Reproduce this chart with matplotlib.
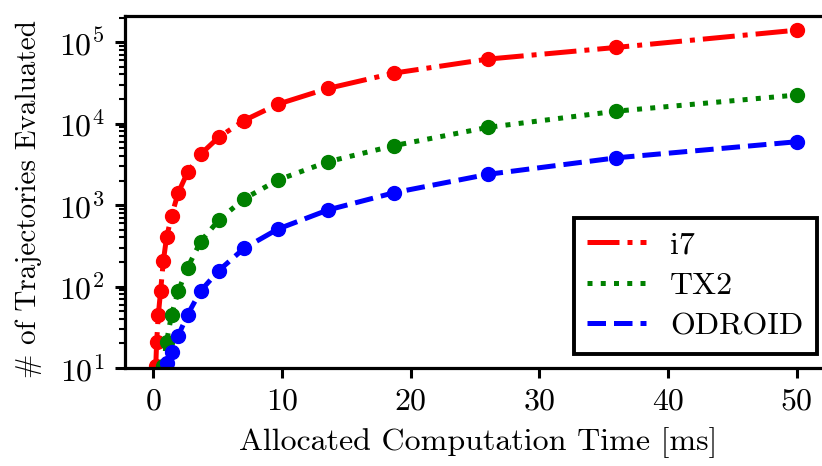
import matplotlib
matplotlib.use("Agg")
import matplotlib.pyplot as plt

plt.rcParams['font.family'] = ['cmr10', 'DejaVu Serif']
plt.rcParams['mathtext.fontset'] = 'cm'
plt.rcParams['axes.formatter.use_mathtext'] = True

# Data
i7_x = [0.10, 0.14, 0.19, 0.26, 0.39, 0.57, 0.78, 1.03, 1.42, 1.94, 2.66, 3.67, 5.09, 7.05, 9.69, 13.57, 18.74, 26.0, 36.0, 50.0]
i7_y = [2.5, 5, 10.5, 21, 45, 89, 206, 400, 740, 1420, 2520, 4200, 6800, 10900, 17300, 27000, 41700, 61800, 86000, 140000]

tx2_x = [0.39, 0.57, 0.78, 1.03, 1.42, 1.94, 2.66, 3.67, 5.09, 7.05, 9.69, 13.57, 18.74, 26.0, 36.0, 50.0]
tx2_y = [2.5, 5, 10.5, 21, 45, 88, 170, 355, 655, 1190, 2030, 3400, 5370, 8980, 14200, 22400]

odroid_x = [0.57, 0.78, 1.03, 1.42, 1.94, 2.66, 3.67, 5.09, 7.05, 9.69, 13.57, 18.74, 26.0, 36.0, 50.0]
odroid_y = [5, 8, 11.5, 15.9, 25, 45, 88, 157, 294, 508, 869, 1420, 2380, 3800, 5980]

xticks = [0, 10, 20, 30, 40, 50]

fig = plt.figure(figsize=(8.22, 4.66), dpi=100)
W, H = 822, 466
ax_left, ax_right_px = 125, 832
ax_top, ax_bot = 16, 368
ax = fig.add_axes([ax_left / W, (H - ax_bot) / H, (ax_right_px - ax_left) / W, (ax_bot - ax_top) / H])

lw = 3.6
ms = 10
ax.plot(i7_x, i7_y, linestyle='-.', color='red', lw=lw, marker='o', ms=ms, label='i7')
ax.plot(tx2_x, tx2_y, linestyle=':', color='green', lw=lw, marker='o', ms=ms, label='TX2')
ax.plot(odroid_x, odroid_y, linestyle='--', color='blue', lw=lw, marker='o', ms=ms, label='ODROID')

ax.set_yscale('log')
ax.set_ylim(10, 10 ** 5.32)
ax.set_xlim(-2.2, 52.75)
ax.set_xticks(xticks)
ax.set_xticklabels([str(v) for v in xticks])

fs = 23
for s in ax.spines.values():
    s.set_linewidth(2.3)
ax.tick_params(axis='both', which='major', length=7.5, width=2.2, labelsize=fs, pad=7)
ax.tick_params(axis='y', which='minor', length=4.5, width=1.5)

ax.set_xlabel('Allocated Computation Time [ms]', fontsize=fs, labelpad=8)
ax.set_ylabel('# of Trajectories Evaluated', fontsize=21, labelpad=7)
ax.yaxis.set_label_coords(-0.118, 0.48)

leg = ax.legend(loc='lower right', bbox_to_anchor=((817 - ax_left) / (ax_right_px - ax_left), (ax_bot - 354) / (ax_bot - ax_top)),
                fontsize=fs, frameon=True, fancybox=False, framealpha=1, edgecolor='black',
                handlelength=1.85, handletextpad=0.75, borderpad=0.42, labelspacing=0.38, borderaxespad=0)
leg.get_frame().set_linewidth(2.8)
for h in leg.legend_handles:
    h.set_marker('')

fig.savefig('out.png', dpi=100)
